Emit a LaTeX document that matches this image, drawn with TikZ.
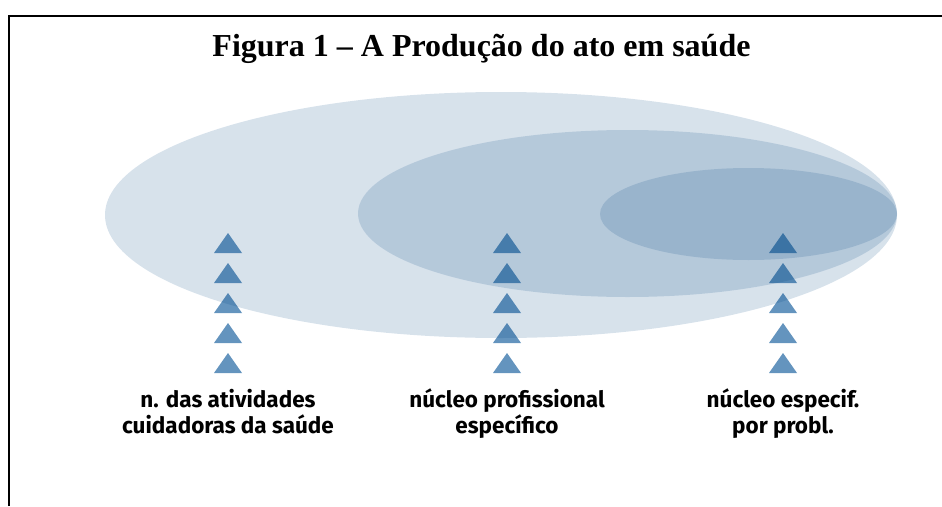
\documentclass[tikz,border=0pt]{standalone}
\usepackage{fontspec}
\setmainfont{Liberation Serif}
\newfontfamily\labelfont{Fira Sans}
\usetikzlibrary{positioning}

\definecolor{ellblue}{RGB}{0,68,128}
\definecolor{triblue}{RGB}{100,148,190}

\tikzset{
  zone/.style={fill=ellblue, fill opacity=0.155, draw=none},
  caption/.style={align=center, anchor=base, font=\labelfont\bfseries\fontsize{22.5}{26}\selectfont}
}

\begin{document}
\begin{tikzpicture}[x=1pt,y=-1pt]
\useasboundingbox (0,0) rectangle (942,506);

% Frame
\draw[line width=2pt] (9,506) -- (9,16) -- (942,16);

% Title
\node[anchor=base, font=\bfseries\fontsize{32}{38}\selectfont] (title) at (481.5,56) {Figura 1 -- A Produção do ato em saúde};

% Triangles (drawn first, the zones shade them)
\foreach \cx in {228,507,783}{
  \foreach \ty in {233,263,293,323,353}{
    \fill[triblue] (\cx-14,\ty+20) -- (\cx,\ty) -- (\cx+14,\ty+20) -- cycle;
  }
}

% Zones
\fill[zone] (501,215) ellipse [x radius=396pt, y radius=123pt];
\fill[zone] (627.5,213.5) ellipse [x radius=269.5pt, y radius=83.5pt];
\fill[zone] (748.5,214) ellipse [x radius=148.5pt, y radius=46pt];

% Labels (base = last line)
\node[caption] (general) at (228,433) {n. das atividades\\cuidadoras da saúde};
\node[caption] (profcore) at (507,433) {núcleo profissional\\específico};
\node[caption] (probcore) at (783,433) {núcleo especif.\\por probl.};

\end{tikzpicture}
\end{document}
